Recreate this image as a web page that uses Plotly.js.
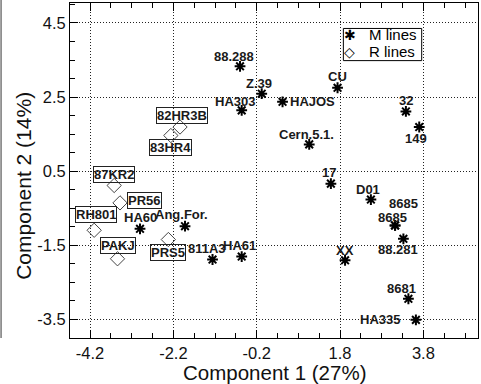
<!DOCTYPE html>
<html>
<head>
<meta charset="utf-8">
<script src="https://cdn.plot.ly/plotly-3.0.1.min.js"></script>
<style>html,body{margin:0;padding:0;background:#fff;}#chart{width:481px;height:384px;}</style>
</head>
<body>
<div id="chart"></div>
<script>
// ---- data ----
const mNames = ["88.288","Z.39","HA303","HAJOS","CU","32","149","Cern.5.1.","17","D01","8685","8685","88.281","XX","8681","HA335","HA60","Ang.For.","811A3","HA61"];
const mX = [-0.6,-0.08,-0.56,0.42,1.74,3.38,3.7,1.06,1.58,2.54,3.12,3.12,3.32,1.92,3.44,3.62,-3.0,-1.92,-1.26,-0.56];
const mY = [3.33,2.59,2.14,2.37,2.75,2.11,1.69,1.22,0.16,-0.27,-0.97,-0.97,-1.33,-1.91,-2.95,-3.52,-1.06,-0.99,-1.89,-1.81];

const rNames = ["82HR3B","83HR4","87KR2","PR56","RH801","PAKJ","PRS5"];
const rX = [-2.04,-2.26,-3.62,-3.48,-4.1,-3.54,-2.32];
const rY = [1.69,1.46,0.11,-0.36,-1.1,-1.87,-1.35];

const seriesNames = ["M lines","R lines"];
const xTitle = "Component 1 (27%)";
const yTitle = "Component 2 (14%)";
const xTicks = [-4.2,-2.2,-0.2,1.8,3.8];
const yTicks = [4.5,2.5,0.5,-1.5,-3.5];

// ---- label placement (pixel shifts: [dx, dy-down, anchor]) ----
const mShift = [[-6,-10,'c'],[-3,-10,'c'],[-7,-9,'c'],[5,0,'l'],[0,-11,'c'],[0,-11,'c'],[-3,11,'c'],[-3,-10,'c'],[-2,-11,'c'],[-3,-10,'c'],
                [-3,-8,'c'],[8,-22,'c'],[-5,11,'c'],[0,-10,'c'],[-7,-10,'c'],[-14,0,'r'],[0,-11,'c'],[-4,-12,'c'],[-6,-11,'c'],[-2,-11,'c']];
const rShift = [[2,-12,'c'],[0,12,'c'],[0,-11,'c'],[7,-2,'l'],[2,-16,'c'],[0,-13,'c'],[0,13,'c']];

const FONT = "Liberation Sans, Arial, Helvetica, sans-serif";
const anc = {c:'center', l:'left', r:'right'};

const annotations = [];
mNames.forEach((n,i)=>{
  const s = mShift[i];
  annotations.push({x:mX[i], y:mY[i], xref:'x', yref:'y', text:'<b>'+n+'</b>', showarrow:false,
    xanchor:anc[s[2]], yanchor:'middle', xshift:s[0], yshift:-s[1],
    font:{family:FONT, size:13, color:'#1a1a1a'}});
});
rNames.forEach((n,i)=>{
  const s = rShift[i];
  annotations.push({x:rX[i], y:rY[i], xref:'x', yref:'y', text:'<b>'+n+'</b>', showarrow:false,
    xanchor:anc[s[2]], yanchor:'middle', xshift:s[0], yshift:-s[1],
    bordercolor:'#222', borderwidth:1, borderpad:0, bgcolor:'rgba(255,255,255,0)',
    font:{family:FONT, size:13, color:'#1a1a1a'}});
});

// compact boxed legend (symbols and names as text, box as shape)
annotations.push({xref:'paper', yref:'paper', x:0.686, y:0.905, text:'✱', showarrow:false, xanchor:'center', yanchor:'middle',
  font:{family:'DejaVu Sans', size:14, color:'#000'}});
annotations.push({xref:'paper', yref:'paper', x:0.686, y:0.855, text:'◇', showarrow:false, xanchor:'center', yanchor:'middle',
  font:{family:'DejaVu Sans', size:14, color:'#000'}});
annotations.push({xref:'paper', yref:'paper', x:0.728, y:0.905, text:seriesNames[0], showarrow:false, xanchor:'left', yanchor:'middle',
  font:{family:FONT, size:15, color:'#000'}});
annotations.push({xref:'paper', yref:'paper', x:0.728, y:0.855, text:seriesNames[1], showarrow:false, xanchor:'left', yanchor:'middle',
  font:{family:FONT, size:15, color:'#000'}});

// axis titles
annotations.push({xref:'paper', yref:'paper', x:0.5, y:-0.104, text:xTitle, showarrow:false, xanchor:'center', yanchor:'middle',
  font:{family:FONT, size:20.5, color:'#111'}});
annotations.push({xref:'paper', yref:'paper', x:-0.113, y:0.454, text:yTitle, textangle:-90, showarrow:false, xanchor:'center', yanchor:'middle',
  font:{family:FONT, size:21, color:'#111'}});

const traces = [
  {type:'scatter', mode:'markers', name:seriesNames[0], x:mX, y:mY, text:mNames,
   marker:{symbol:'asterisk-open', size:9, color:'#000', line:{color:'#000', width:2}}},
  {type:'scatter', mode:'markers', name:seriesNames[1], x:rX, y:rY, text:rNames,
   marker:{symbol:'diamond-open', size:11, color:'#444', line:{color:'#444', width:1}}}
];

const axisCommon = {
  showline:true, linecolor:'#000', linewidth:1,
  ticks:'inside', ticklen:8, tickcolor:'#000', tickwidth:1,
  showgrid:true, gridcolor:'#222', griddash:'1px,2px', gridwidth:1,
  zeroline:false, tickfont:{family:FONT, size:16.5, color:'#111'}
};

const layout = {
  width:481, height:384,
  margin:{l:70, r:3, t:3, b:46},
  paper_bgcolor:'#fff', plot_bgcolor:'#fff',
  showlegend:false,
  xaxis:Object.assign({}, axisCommon, {
    range:[-4.68,5.11], tickmode:'array', tickvals:xTicks, ticktext:xTicks.map(v=>v.toFixed(1)),
    mirror:'ticks',
    minor:{tickmode:'linear', tick0:-4.2, dtick:0.5, ticks:'inside', ticklen:5, tickcolor:'#000', showgrid:false}
  }),
  yaxis:Object.assign({}, axisCommon, {
    range:[-4.01,5.04], tickmode:'array', tickvals:yTicks, ticktext:yTicks.map(v=>v.toFixed(1)),
    mirror:true,
    minor:{tickmode:'linear', tick0:4.5, dtick:0.5, ticks:'inside', ticklen:5, tickcolor:'#000', showgrid:false}
  }),
  annotations:annotations,
  shapes:[
    {type:'line', xref:'paper', yref:'paper', x0:-0.169, x1:-0.169, y0:0, y1:1.01, line:{color:'#333', width:1}},
    {type:'rect', xref:'paper', yref:'paper', x0:0.670, x1:0.862, y0:0.828, y1:0.924, fillcolor:'#fff', line:{color:'#000', width:1}, layer:'above'}
  ]
};

Plotly.newPlot('chart', traces, layout, {displayModeBar:false, staticPlot:true});
</script>
</body>
</html>
